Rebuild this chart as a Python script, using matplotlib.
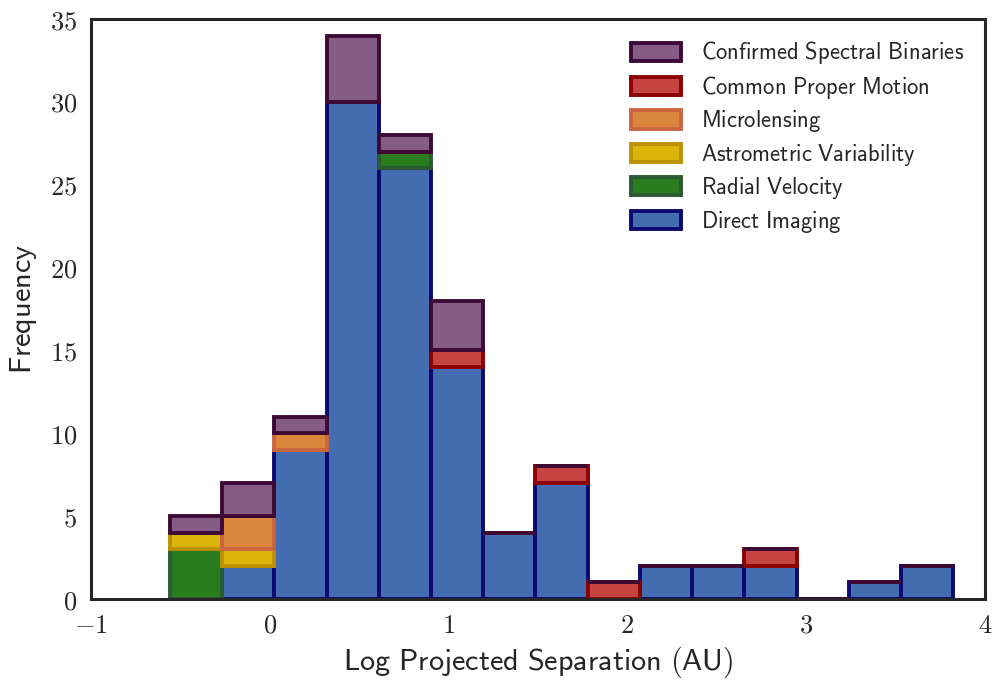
import numpy as np
import matplotlib
matplotlib.use("Agg")
import matplotlib.pyplot as plt

plt.rcParams['mathtext.fontset'] = 'cm'
plt.rcParams['text.color'] = '#262626'
plt.rcParams['xtick.color'] = '#262626'
plt.rcParams['ytick.color'] = '#262626'
plt.rcParams['axes.labelcolor'] = '#262626'

# bin edges of the log projected separation histogram
bin_left = -0.558
bin_width = 0.292
n_bins = 15

labels = ['Direct Imaging', 'Radial Velocity', 'Astrometric Variability',
          'Microlensing', 'Common Proper Motion', 'Confirmed Spectral Binaries']
direct_imaging = [0, 2, 9, 30, 26, 14, 4, 7, 0, 2, 2, 2, 0, 1, 2]
radial_velocity = [3, 0, 0, 0, 1, 0, 0, 0, 0, 0, 0, 0, 0, 0, 0]
astrometric = [1, 1, 0, 0, 0, 0, 0, 0, 0, 0, 0, 0, 0, 0, 0]
microlensing = [0, 2, 1, 0, 0, 0, 0, 0, 0, 0, 0, 0, 0, 0, 0]
proper_motion = [0, 0, 0, 0, 0, 1, 0, 1, 1, 0, 0, 1, 0, 0, 0]
spectral_binaries = [1, 2, 1, 4, 1, 3, 0, 0, 0, 0, 0, 0, 0, 0, 0]

face_colors = ['#446cb0', '#2a7d1f', '#dbb40c', '#db863d', '#c54343', '#845c85']
edge_colors = ['#0a0a70', '#2c5a32', '#bf9000', '#cc6640', '#8b0000', '#3d0a35']

series = [direct_imaging, radial_velocity, astrometric, microlensing,
          proper_motion, spectral_binaries]

x = bin_left + bin_width * np.arange(n_bins)

fig = plt.figure(figsize=(9.92, 6.82), dpi=100)
ax = fig.add_axes([91/992, 1 - 599/682, (985 - 91)/992, (599 - 19)/682])

bottom = np.zeros(n_bins)
handles = []
for vals, fc, ec, lab in zip(series, face_colors, edge_colors, labels):
    vals = np.array(vals, dtype=float)
    h = ax.bar(x, vals, width=bin_width, bottom=bottom, align='edge',
               color=fc, edgecolor=ec, linewidth=2.8,
               label=r'$\mathsf{' + lab.replace(' ', r'\ ') + '}$')
    handles.append(h)
    bottom += vals

ax.set_xlim(-1, 4)
ax.set_ylim(0, 35)
ax.set_xticks([-1, 0, 1, 2, 3, 4])
ax.set_xticklabels([r'$%d$' % v for v in [-1, 0, 1, 2, 3, 4]], fontsize=19)
ax.set_yticks(range(0, 36, 5))
ax.set_yticklabels([r'$%d$' % v for v in range(0, 36, 5)], fontsize=19)
ax.tick_params(length=0, pad=10)
for s in ax.spines.values():
    s.set_linewidth(2.2)
    s.set_color('#262626')

ax.set_xlabel(r'$\mathsf{Log\ Projected\ Separation\ (AU)}$', fontsize=21.8, labelpad=4)
ax.set_ylabel(r'$\mathsf{Frequency}$', fontsize=21.8, labelpad=8)

ax.legend(handles[::-1], [h.get_label() for h in handles[::-1]], loc='upper right',
          frameon=False, fontsize=16.3, handlelength=2.2, handleheight=0.85,
          labelspacing=0.33, borderaxespad=0.5, handletextpad=0.9)

fig.savefig('out.png', dpi=100)
